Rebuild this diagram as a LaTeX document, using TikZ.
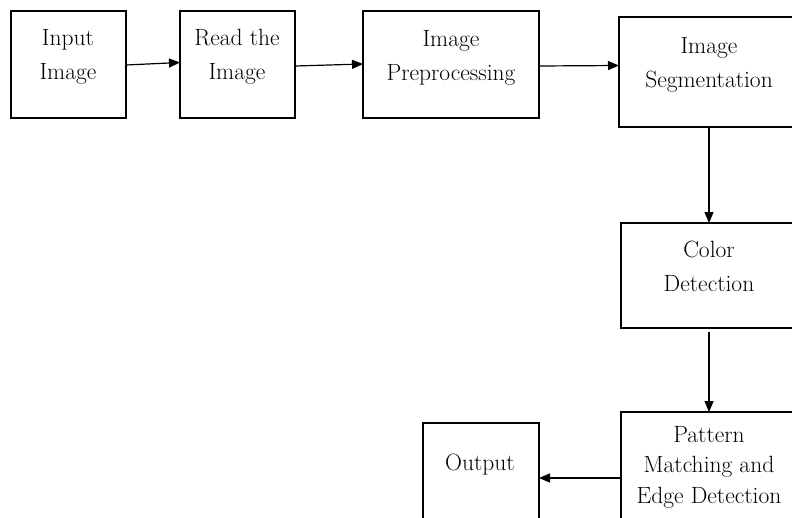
\documentclass[tikz,border=0pt]{standalone}
\usetikzlibrary{arrows.meta}
\begin{document}
\begin{tikzpicture}[x=1pt,y=-1pt,
  box/.style={draw=black,line width=1.3pt,rectangle,inner sep=0pt,outer sep=0pt,anchor=north west},
  lbl/.style={align=center,anchor=base,inner sep=0pt,font=\fontsize{23.5}{34}\selectfont},
  arr/.style={line width=1.2pt,-{Triangle[length=11pt,width=9pt]}}]
\useasboundingbox (0,0) rectangle (792,517);
\clip (0,0) rectangle (792,517);
\fill[white] (0,0) rectangle (792,517);
% boxes
\node[box,minimum width=115pt,minimum height=107pt] (b1) at (11,11) {};
\node[box,minimum width=115pt,minimum height=107pt] (b2) at (180,11) {};
\node[box,minimum width=176pt,minimum height=107pt] (b3) at (363,11) {};
\node[box,minimum width=180pt,minimum height=110pt] (b4) at (619,17) {};
\node[box,minimum width=178pt,minimum height=105pt] (b5) at (621,223) {};
\node[box,minimum width=178pt,minimum height=130pt] (b6) at (621,412) {};
\node[box,minimum width=116pt,minimum height=120pt] (b7) at (423,423) {};
% labels (anchored at the baseline of the last line)
\node[lbl] (t1) at (68,79) {Input\\Image};
\node[lbl] (t2) at (237,79) {Read the\\Image};
\node[lbl] (t3) at (451,80) {Image\\Preprocessing};
\node[lbl] (t4) at (709,87) {Image\\Segmentation};
\node[lbl] (t5) at (709,291) {Color\\Detection};
\node[lbl,font=\fontsize{23.5}{30.5}\selectfont] (t6) at (709,503) {Pattern\\Matching and\\Edge Detection};
\node[lbl] (t7) at (480,470) {Output};
% connectors
\draw[arr] ([yshift=-0.5pt]b1.east) -- ([yshift=2pt]b2.west);
\draw[arr] ([yshift=-1.5pt]b2.east) -- ([yshift=0.5pt]b3.west);
\draw[arr] ([yshift=-1.5pt]b3.east) -- ([yshift=6.5pt]b4.west);
\draw[arr] (b4.south west) ++(90,0) coordinate (s1) -- (s1 |- b5.north);
\draw[arr] ([yshift=-4pt]b5.south west) ++(88,0) coordinate (s2) -- (s2 |- b6.north);
\draw[arr] ([yshift=-1pt]b6.west) coordinate (s3) -- (s3 -| b7.east);
\end{tikzpicture}
\end{document}
